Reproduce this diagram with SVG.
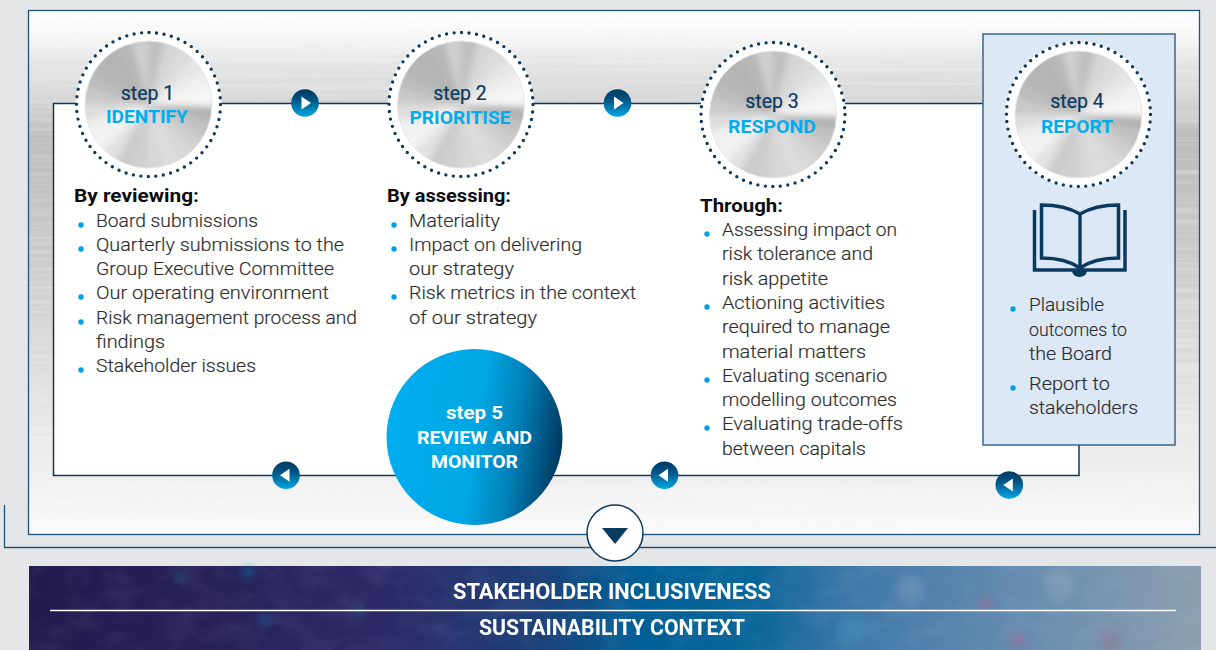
<svg xmlns="http://www.w3.org/2000/svg" width="1216" height="650" viewBox="0 0 1216 650">
<style>
text{font-family:Roboto,"Noto Sans",sans-serif}
.b{font-size:18px;fill:#2c2c2e;font-weight:300;stroke:#2c2c2e;stroke-width:.15}
.h{font-size:18px;fill:#0c0c10;font-weight:700}
.s{font-size:19.500px;fill:#0b3a61;text-anchor:middle;font-weight:400;stroke:#0b3a61;stroke-width:.2}
.n{font-size:19px;fill:#00aeef;text-anchor:middle;font-weight:700}
.w{font-size:19px;fill:#fff;text-anchor:middle;font-weight:700}
.t{font-size:21.500px;fill:#fff;text-anchor:middle;font-weight:700}
.dot{fill:#00a0e0}
.wedge{fill:none;stroke-width:72;stroke-dasharray:10.500 300}
</style>
<defs>
<linearGradient id="silver" x1="0" y1="0" x2="0" y2="1">
<stop offset="0" stop-color="#ffffff"/><stop offset=".05" stop-color="#f6f6f6"/><stop offset=".1" stop-color="#e4e4e4"/><stop offset=".16" stop-color="#d8d8d8"/><stop offset=".24" stop-color="#bcbcbc"/><stop offset=".42" stop-color="#c6c6c6"/><stop offset=".6" stop-color="#d6d6d6"/><stop offset=".8" stop-color="#e8e8e8"/><stop offset=".9" stop-color="#f0f0f0"/><stop offset="1" stop-color="#fafafa"/>
</linearGradient>
<linearGradient id="btn" x1="0" y1="0" x2="0" y2="1"><stop offset="0" stop-color="#003a63"/><stop offset=".35" stop-color="#00507f"/><stop offset="1" stop-color="#00a8e6"/></linearGradient>
<linearGradient id="s5" x1="0" y1=".35" x2="1" y2=".5"><stop offset="0" stop-color="#00aeef"/><stop offset=".52" stop-color="#00a6e4"/><stop offset=".74" stop-color="#0081b8"/><stop offset="1" stop-color="#003a63"/></linearGradient>
<linearGradient id="banner" x1="0" y1="0" x2="1" y2="0">
<stop offset="0" stop-color="#221a4c"/><stop offset=".3" stop-color="#2d2966"/><stop offset=".43" stop-color="#1f3f78"/><stop offset=".52" stop-color="#005f96"/><stop offset=".62" stop-color="#0a6599"/><stop offset=".7" stop-color="#3f78a8"/><stop offset=".82" stop-color="#5f88ae"/><stop offset="1" stop-color="#8c9fb1"/>
</linearGradient>
<filter id="brush" x="0" y="0" width="100%" height="100%"><feTurbulence type="fractalNoise" baseFrequency="0.002 0.22" numOctaves="3" seed="4"/><feColorMatrix type="matrix" values="0 0 0 0 1 0 0 0 0 1 0 0 0 0 1 1.6 0 0 0 -.6"/></filter>
<filter id="mottle" x="0" y="0" width="100%" height="100%"><feTurbulence type="fractalNoise" baseFrequency="0.03 0.05" numOctaves="3" seed="9"/><feColorMatrix type="matrix" values="0 0 0 0 .6 0 0 0 0 .7 0 0 0 0 .9 1.5 0 0 0 -.6"/></filter>
<filter id="bl2"><feGaussianBlur stdDeviation="3"/></filter>
<filter id="bl5" x="-100%" y="-100%" width="300%" height="300%"><feGaussianBlur stdDeviation="4"/></filter>
<clipPath id="discClip"><circle r="63.500"/></clipPath>
<g id="disc">
<circle r="73" fill="#fff"/>
<g clip-path="url(#discClip)"><g filter="url(#bl2)">
<circle r="72" fill="#cfcfcf"/>
<circle class="wedge" r="36" stroke="#b4b4b4" transform="rotate(0)"/>
<circle class="wedge" r="36" stroke="#c2c2c2" transform="rotate(15)"/>
<circle class="wedge" r="36" stroke="#cfcfcf" transform="rotate(30)"/>
<circle class="wedge" r="36" stroke="#d8d8d8" transform="rotate(45)"/>
<circle class="wedge" r="36" stroke="#dcdcdc" transform="rotate(60)"/>
<circle class="wedge" r="36" stroke="#d8d8d8" transform="rotate(75)"/>
<circle class="wedge" r="36" stroke="#cfcfcf" transform="rotate(90)"/>
<circle class="wedge" r="36" stroke="#cbcbcb" transform="rotate(105)"/>
<circle class="wedge" r="36" stroke="#e2e2e2" transform="rotate(120)"/>
<circle class="wedge" r="36" stroke="#f2f2f2" transform="rotate(135)"/>
<circle class="wedge" r="36" stroke="#f0f0f0" transform="rotate(150)"/>
<circle class="wedge" r="36" stroke="#dedede" transform="rotate(165)"/>
<circle class="wedge" r="36" stroke="#c9c9c9" transform="rotate(180)"/>
<circle class="wedge" r="36" stroke="#bcbcbc" transform="rotate(195)"/>
<circle class="wedge" r="36" stroke="#b6b6b6" transform="rotate(210)"/>
<circle class="wedge" r="36" stroke="#b4b4b4" transform="rotate(225)"/>
<circle class="wedge" r="36" stroke="#b8b8b8" transform="rotate(240)"/>
<circle class="wedge" r="36" stroke="#cfcfcf" transform="rotate(255)"/>
<circle class="wedge" r="36" stroke="#c0c0c0" transform="rotate(270)"/>
<circle class="wedge" r="36" stroke="#d6d6d6" transform="rotate(285)"/>
<circle class="wedge" r="36" stroke="#dcdcdc" transform="rotate(300)"/>
<circle class="wedge" r="36" stroke="#e6e6e6" transform="rotate(315)"/>
<circle class="wedge" r="36" stroke="#f0f0f0" transform="rotate(330)"/>
<circle class="wedge" r="36" stroke="#f6f6f6" transform="rotate(345)"/>
</g></g>
<circle r="63.500" fill="none" stroke="#e6e6e6" stroke-width="1"/>
<circle r="72" fill="none" stroke="#0b3a61" stroke-width="3.400" stroke-linecap="round" stroke-dasharray="0 7.54"/>
</g>
<g id="btnR"><circle r="13.800" fill="url(#btn)"/><path d="M-3.500-6.500 6 0-3.500 6.500Z" fill="#fff"/></g>
<g id="btnL"><circle r="13.800" fill="url(#btn)"/><path d="M3.500-6.500-6 0 3.500 6.500Z" fill="#fff"/></g>
</defs>
<rect width="1216" height="650" fill="#e4e6e8"/>
<g id="outer-frame">
<path d="M4.500 505V547.500H1216" fill="none" stroke="#1f5478" stroke-width="1.300"/>
<rect x="28.500" y="10.500" width="1171" height="524" fill="url(#silver)"/>
<rect x="29" y="11" width="1170" height="523" filter="url(#brush)" opacity=".35"/>
<rect x="28.500" y="10.500" width="1171" height="524" fill="none" stroke="#1f5478" stroke-width="1.300"/>
</g>
<g id="connectors">
<rect x="53.500" y="103.500" width="1025.500" height="372" fill="#fff" stroke="#0b3a61" stroke-width="1.500"/>
</g>
<g id="report-panel"><rect x="983" y="34" width="192" height="411" fill="#dce8f5" stroke="#2a5f86" stroke-width="1.400"/></g>
<g id="step1">
<use href="#disc" x="148.500" y="104.500"/>
<text class="s" x="147.500" y="100">step 1</text><text class="n" x="147" y="123" textLength="82" lengthAdjust="spacingAndGlyphs">IDENTIFY</text>
</g>
<g id="step2">
<use href="#disc" x="461" y="104.500"/>
<text class="s" x="460" y="100">step 2</text><text class="n" x="460" y="124" textLength="101" lengthAdjust="spacingAndGlyphs">PRIORITISE</text>
</g>
<g id="step3">
<use href="#disc" x="773" y="114.500"/>
<text class="s" x="772" y="108">step 3</text><text class="n" x="772" y="133" textLength="88" lengthAdjust="spacingAndGlyphs">RESPOND</text>
</g>
<g id="step4">
<use href="#disc" x="1078.500" y="114.500"/>
<text class="s" x="1077" y="108">step 4</text><text class="n" x="1077" y="133" textLength="72" lengthAdjust="spacingAndGlyphs">REPORT</text>
</g>
<g id="arrows">
<use href="#btnR" x="305" y="103"/>
<use href="#btnR" x="617.500" y="103"/>
<use href="#btnL" x="286" y="475.300"/>
<use href="#btnL" x="664.500" y="475.300"/>
<use href="#btnL" x="1009.300" y="485"/>
</g>
<g id="step5">
<circle cx="474.500" cy="437" r="88" fill="url(#s5)"/>
<text class="w" x="474.500" y="419" textLength="57" lengthAdjust="spacingAndGlyphs">step 5</text><text class="w" x="474.500" y="444" textLength="115" lengthAdjust="spacingAndGlyphs">REVIEW AND</text><text class="w" x="474.500" y="468" textLength="87" lengthAdjust="spacingAndGlyphs">MONITOR</text>
</g>
<g id="down-button">
<circle cx="615" cy="533" r="28" fill="#fff" stroke="#0b3a61" stroke-width="1.500"/>
<path d="M602 528H628L615 544Z" fill="#0b3a61"/>
</g>
<g id="col1">
<text class="h" x="74" y="202" textLength="125" lengthAdjust="spacingAndGlyphs">By reviewing:</text>
<circle class="dot" cx="81" cy="225" r="2.700"/><text class="b" x="96" y="227" textLength="162" lengthAdjust="spacingAndGlyphs">Board submissions</text>
<circle class="dot" cx="81" cy="249" r="2.700"/><text class="b" x="96" y="251" textLength="248" lengthAdjust="spacingAndGlyphs">Quarterly submissions to the</text>
<text class="b" x="96" y="275" textLength="238" lengthAdjust="spacingAndGlyphs">Group Executive Committee</text>
<circle class="dot" cx="81" cy="297" r="2.700"/><text class="b" x="96" y="299" textLength="233" lengthAdjust="spacingAndGlyphs">Our operating environment</text>
<circle class="dot" cx="81" cy="322" r="2.700"/><text class="b" x="96" y="324" textLength="261" lengthAdjust="spacingAndGlyphs">Risk management process and</text>
<text class="b" x="96" y="348" textLength="69" lengthAdjust="spacingAndGlyphs">findings</text>
<circle class="dot" cx="81" cy="370" r="2.700"/><text class="b" x="96" y="372" textLength="160" lengthAdjust="spacingAndGlyphs">Stakeholder issues</text>
</g>
<g id="col2">
<text class="h" x="387" y="202" textLength="124" lengthAdjust="spacingAndGlyphs">By assessing:</text>
<circle class="dot" cx="394" cy="225" r="2.700"/><text class="b" x="409" y="227" textLength="91" lengthAdjust="spacingAndGlyphs">Materiality</text>
<circle class="dot" cx="394" cy="249" r="2.700"/><text class="b" x="409" y="251" textLength="173" lengthAdjust="spacingAndGlyphs">Impact on delivering</text>
<text class="b" x="409" y="275" textLength="105" lengthAdjust="spacingAndGlyphs">our strategy</text>
<circle class="dot" cx="394" cy="297" r="2.700"/><text class="b" x="409" y="299" textLength="227" lengthAdjust="spacingAndGlyphs">Risk metrics in the context</text>
<text class="b" x="409" y="324" textLength="128" lengthAdjust="spacingAndGlyphs">of our strategy</text>
</g>
<g id="col3">
<text class="h" x="700" y="212" textLength="83" lengthAdjust="spacingAndGlyphs">Through:</text>
<circle class="dot" cx="707" cy="234" r="2.700"/><text class="b" x="722" y="236" textLength="175" lengthAdjust="spacingAndGlyphs">Assessing impact on</text>
<text class="b" x="722" y="260" textLength="151" lengthAdjust="spacingAndGlyphs">risk tolerance and</text>
<text class="b" x="722" y="285" textLength="106" lengthAdjust="spacingAndGlyphs">risk appetite</text>
<circle class="dot" cx="707" cy="307" r="2.700"/><text class="b" x="722" y="309" textLength="163" lengthAdjust="spacingAndGlyphs">Actioning activities</text>
<text class="b" x="722" y="333" textLength="168" lengthAdjust="spacingAndGlyphs">required to manage</text>
<text class="b" x="722" y="358" textLength="144" lengthAdjust="spacingAndGlyphs">material matters</text>
<circle class="dot" cx="707" cy="380" r="2.700"/><text class="b" x="722" y="382" textLength="165" lengthAdjust="spacingAndGlyphs">Evaluating scenario</text>
<text class="b" x="722" y="406" textLength="175" lengthAdjust="spacingAndGlyphs">modelling outcomes</text>
<circle class="dot" cx="707" cy="428" r="2.700"/><text class="b" x="722" y="430" textLength="181" lengthAdjust="spacingAndGlyphs">Evaluating trade-offs</text>
<text class="b" x="722" y="455" textLength="144" lengthAdjust="spacingAndGlyphs">between capitals</text>
</g>
<g id="col4">
<circle class="dot" cx="1013" cy="309" r="2.700"/><text class="b" x="1029" y="311" textLength="75" lengthAdjust="spacingAndGlyphs">Plausible</text>
<text class="b" x="1029" y="336" textLength="98" lengthAdjust="spacingAndGlyphs">outcomes to</text>
<text class="b" x="1029" y="360" textLength="83" lengthAdjust="spacingAndGlyphs">the Board</text>
<circle class="dot" cx="1013" cy="388" r="2.700"/><text class="b" x="1029" y="390" textLength="81" lengthAdjust="spacingAndGlyphs">Report to</text>
<text class="b" x="1029" y="414" textLength="109" lengthAdjust="spacingAndGlyphs">stakeholders</text>
</g>
<g id="book" fill="none" stroke="#0b3a61" stroke-width="3.500">
<path d="M1034.500 210V270H1125V210"/>
<path d="M1080 214C1070 208 1058 205 1041.500 205V258C1058 258 1070 261 1080 268C1090 261 1102 258 1118.500 258V205C1102 205 1090 208 1080 214V268"/>
<path d="M1072 271A7.500 6 0 0 0 1087 271Z" fill="#0b3a61" stroke="none"/>
</g>
<g id="banner-panel">
<rect x="29" y="566" width="1172" height="84" fill="url(#banner)"/>
<rect x="29" y="566" width="1172" height="84" filter="url(#mottle)" opacity=".1"/>
<g filter="url(#bl5)">
<circle cx="180" cy="577" r="5" fill="#1f6f96" opacity=".5"/>
<circle cx="248" cy="572" r="5" fill="#007fa0" opacity=".7"/>
<circle cx="265" cy="620" r="6" fill="#1a5f96" opacity=".6"/>
<circle cx="360" cy="610" r="5" fill="#1a6f96" opacity=".4"/>
<circle cx="985" cy="604" r="6" fill="#b35f90" opacity=".6"/>
<circle cx="1018" cy="640" r="7" fill="#b35f9a" opacity=".6"/>
<circle cx="1110" cy="640" r="11" fill="#9a6f90" opacity=".4"/>
<circle cx="910" cy="590" r="14" fill="#7fa0c0" opacity=".4"/>
<circle cx="1060" cy="585" r="15" fill="#9fb4c4" opacity=".3"/>
<circle cx="850" cy="630" r="14" fill="#3f9abf" opacity=".4"/>
</g>
<path d="M50 610.500H1176" stroke="#fff" stroke-width="1.300"/>
<text class="t" x="612" y="599" textLength="318" lengthAdjust="spacingAndGlyphs">STAKEHOLDER INCLUSIVENESS</text>
<text class="t" x="612" y="635" textLength="266" lengthAdjust="spacingAndGlyphs">SUSTAINABILITY CONTEXT</text>
</g>
</svg>
